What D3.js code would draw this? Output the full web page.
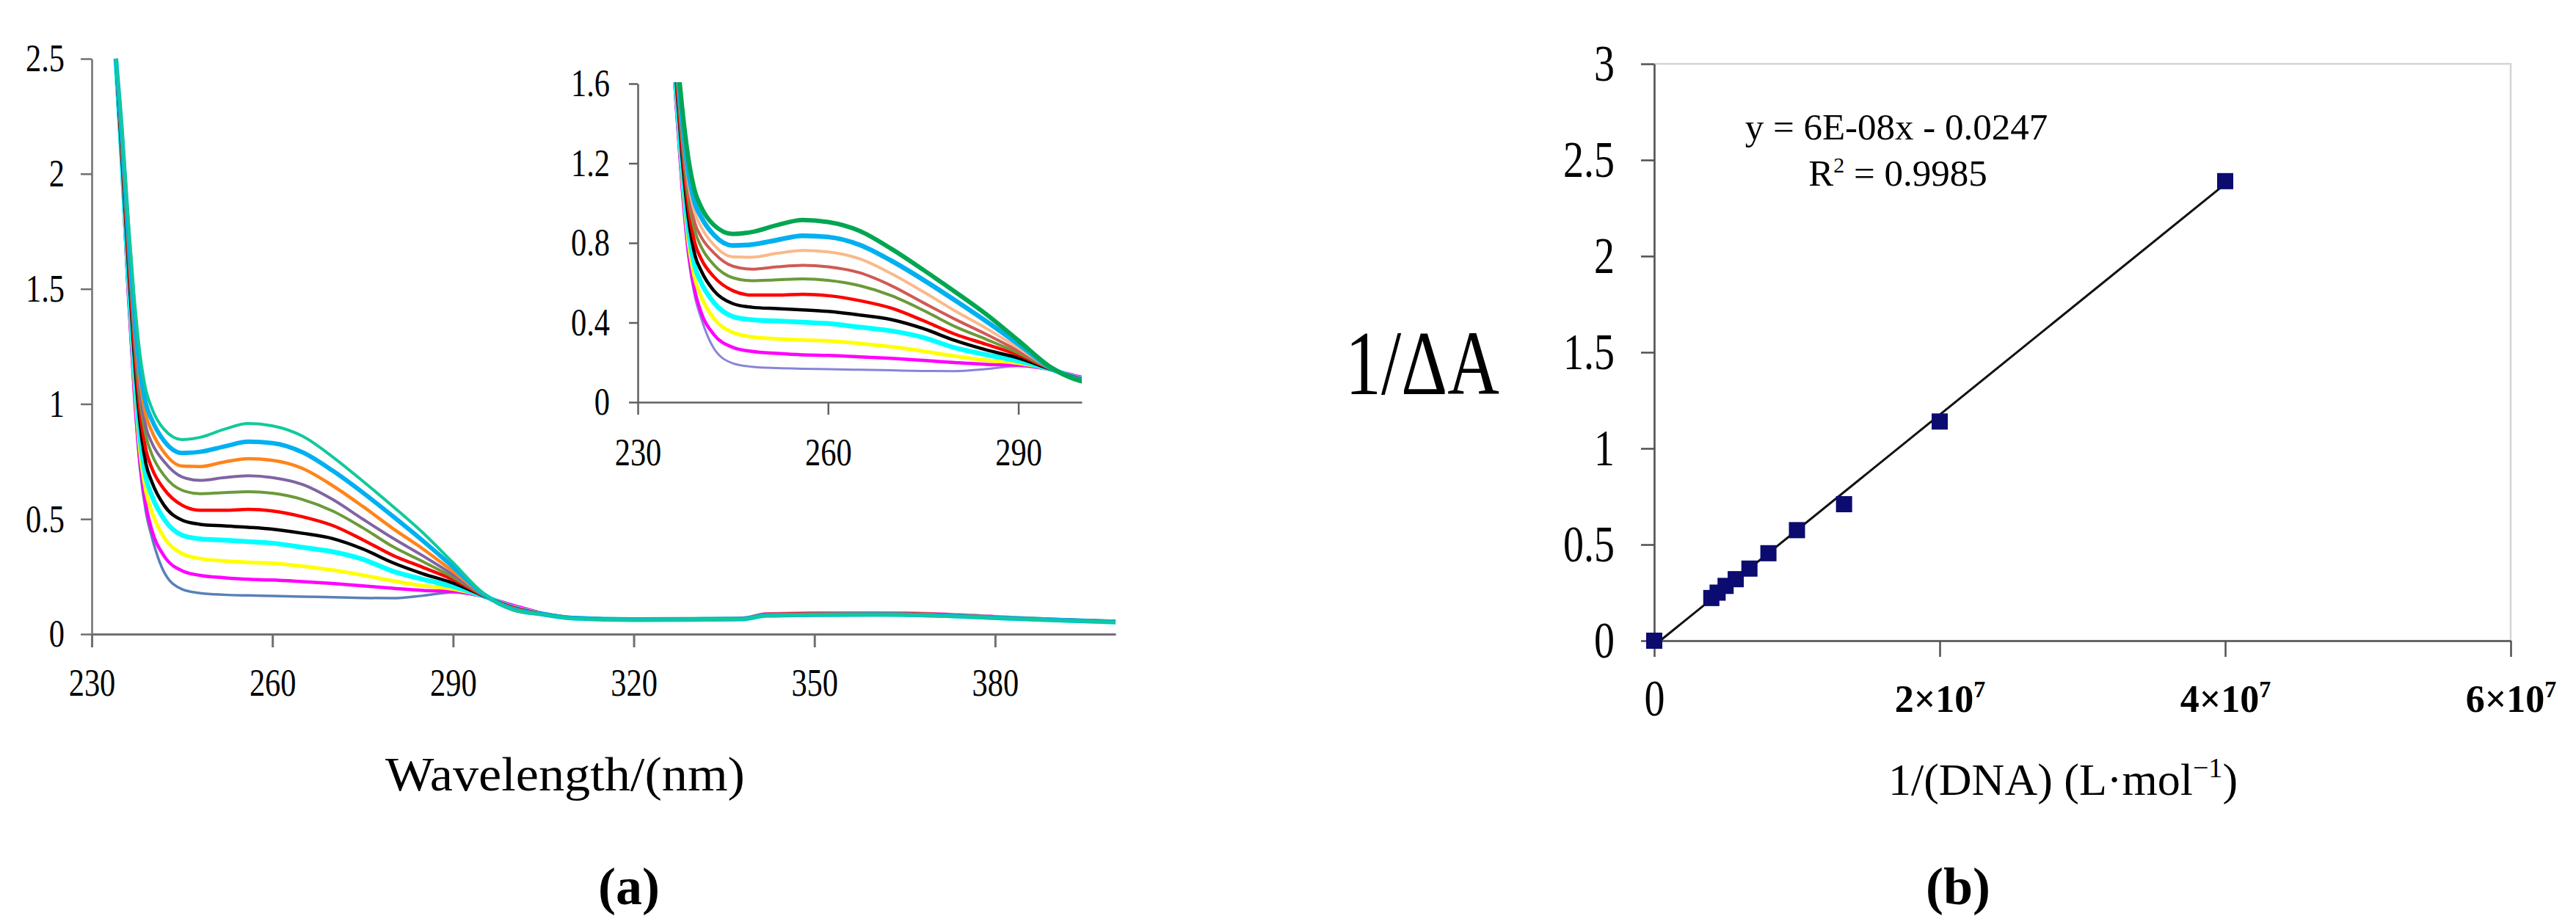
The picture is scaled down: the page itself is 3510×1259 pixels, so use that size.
<!DOCTYPE html>
<html lang='en'>
<head>
  <meta charset='UTF-8'>
  <title>DNA binding spectra</title>
  <script src='https://d3js.org/d3.v7.min.js'></script>
  <style>
    body { margin: 0; background: #fff; }
    svg { display: block; background: #fff; }
  </style>
</head>
<body>
  <svg width='3510' height='1259'></svg>

  <script>
    // ---- data ----
    var wavelengths = [234, 235, 236, 237, 238, 239, 240, 242, 245, 248, 252, 256, 260, 265, 270, 275, 280, 285, 290, 295, 300, 305, 310, 320, 330, 338, 342, 350, 360, 370, 380, 390, 400];

    var spec1  = [2.5, 2.2, 1.82, 1.48, 1.22, 1.06, 0.98, 0.89, 0.845, 0.855, 0.89, 0.915, 0.905, 0.86, 0.77, 0.665, 0.555, 0.44, 0.31, 0.178, 0.105, 0.085, 0.068, 0.062, 0.063, 0.065, 0.08, 0.083, 0.084, 0.08, 0.07, 0.06, 0.052];
    var spec2  = [2.5, 2.18, 1.78, 1.42, 1.15, 1.0, 0.93, 0.84, 0.787, 0.792, 0.815, 0.836, 0.83, 0.79, 0.71, 0.615, 0.512, 0.405, 0.292, 0.175, 0.107, 0.086, 0.069, 0.063, 0.064, 0.066, 0.081, 0.084, 0.085, 0.081, 0.071, 0.061, 0.053];
    var spec3  = [2.5, 2.15, 1.75, 1.38, 1.1, 0.95, 0.88, 0.79, 0.73, 0.728, 0.748, 0.762, 0.755, 0.72, 0.645, 0.555, 0.459, 0.37, 0.272, 0.172, 0.11, 0.087, 0.07, 0.064, 0.065, 0.067, 0.084, 0.087, 0.088, 0.084, 0.073, 0.062, 0.054];
    var spec4  = [2.5, 2.13, 1.72, 1.34, 1.06, 0.9, 0.83, 0.75, 0.683, 0.668, 0.68, 0.688, 0.68, 0.65, 0.585, 0.5, 0.417, 0.34, 0.258, 0.17, 0.112, 0.087, 0.07, 0.064, 0.065, 0.067, 0.083, 0.086, 0.087, 0.083, 0.072, 0.062, 0.054];
    var spec5  = [2.5, 2.12, 1.7, 1.31, 1.02, 0.86, 0.78, 0.69, 0.625, 0.61, 0.615, 0.619, 0.612, 0.585, 0.535, 0.462, 0.38, 0.315, 0.247, 0.169, 0.113, 0.086, 0.069, 0.063, 0.064, 0.066, 0.082, 0.085, 0.086, 0.082, 0.071, 0.061, 0.053];
    var spec6  = [2.5, 2.1, 1.67, 1.27, 0.97, 0.8, 0.72, 0.63, 0.56, 0.538, 0.538, 0.542, 0.535, 0.51, 0.472, 0.41, 0.342, 0.29, 0.237, 0.168, 0.115, 0.088, 0.071, 0.065, 0.066, 0.068, 0.086, 0.089, 0.09, 0.086, 0.074, 0.063, 0.055];
    var spec7  = [2.5, 2.08, 1.64, 1.23, 0.92, 0.74, 0.66, 0.56, 0.495, 0.477, 0.47, 0.464, 0.456, 0.438, 0.415, 0.37, 0.31, 0.262, 0.222, 0.167, 0.115, 0.087, 0.07, 0.064, 0.065, 0.067, 0.083, 0.086, 0.087, 0.083, 0.072, 0.062, 0.054];
    var spec8  = [2.5, 2.06, 1.6, 1.18, 0.86, 0.68, 0.6, 0.5, 0.43, 0.414, 0.408, 0.402, 0.395, 0.377, 0.358, 0.325, 0.273, 0.238, 0.207, 0.166, 0.116, 0.086, 0.069, 0.063, 0.064, 0.066, 0.082, 0.085, 0.086, 0.082, 0.071, 0.061, 0.053];
    var spec9  = [2.5, 2.04, 1.56, 1.13, 0.8, 0.62, 0.53, 0.42, 0.35, 0.328, 0.318, 0.312, 0.308, 0.295, 0.278, 0.256, 0.231, 0.21, 0.196, 0.165, 0.118, 0.088, 0.071, 0.065, 0.066, 0.068, 0.085, 0.088, 0.089, 0.085, 0.074, 0.063, 0.055];
    var spec10 = [2.5, 2.02, 1.52, 1.08, 0.75, 0.56, 0.45, 0.34, 0.275, 0.255, 0.245, 0.238, 0.235, 0.228, 0.22, 0.21, 0.199, 0.19, 0.186, 0.164, 0.125, 0.09, 0.072, 0.066, 0.067, 0.069, 0.088, 0.091, 0.092, 0.088, 0.076, 0.064, 0.056];
    var spec11 = [2.5, 2.0, 1.48, 1.05, 0.72, 0.53, 0.42, 0.27, 0.195, 0.178, 0.171, 0.168, 0.166, 0.163, 0.16, 0.157, 0.156, 0.167, 0.182, 0.162, 0.12, 0.088, 0.07, 0.064, 0.065, 0.067, 0.084, 0.087, 0.088, 0.084, 0.073, 0.062, 0.054];
    var spectra = [spec1, spec2, spec3, spec4, spec5, spec6, spec7, spec8, spec9, spec10, spec11];

    var mainColors  = ['#12c99b', '#00b0f0', '#ff8419', '#8064a2', '#6b9a3a', '#ff0000', '#000000', '#00ffff', '#ffff00', '#ff00ff', '#5a80b8'];
    var mainWidths  = [4, 6, 4.5, 4, 4, 4.5, 4.5, 6.5, 5, 4.5, 3.5];
    var insetColors = ['#00a651', '#00b0f0', '#fab98a', '#d05a55', '#6b9a3a', '#ff0000', '#000000', '#00ffff', '#ffff00', '#ff00ff', '#8884d8'];
    var insetWidths = [6, 6.5, 4, 4, 4, 4.5, 4.5, 6.5, 5, 4.5, 3];

    var mainXTicks  = [230, 260, 290, 320, 350, 380];
    var mainYTicks  = [0, 0.5, 1, 1.5, 2, 2.5];
    var insetXTicks = [230, 260, 290];
    var insetYTicks = [0, 0.4, 0.8, 1.2, 1.6];

    // double reciprocal plot
    var invDNA = [0, 4.0e6, 4.44e6, 5.0e6, 5.71e6, 6.67e6, 8.0e6, 1.0e7, 1.33e7, 2.0e7, 4.0e7];
    var invDA  = [0, 0.222, 0.25, 0.285, 0.32, 0.375, 0.455, 0.575, 0.71, 1.14, 2.39];
    var fitSlope = 6e-8, fitIntercept = -0.0247;
    var rightXTicks  = [0, 2e7, 4e7, 6e7];
    var rightXLabels = ['0', '2×10', '4×10', '6×10'];
    var rightYTicks  = [0, 0.5, 1, 1.5, 2, 2.5, 3];

    var svg = d3.select('svg');
    var serif = 'Liberation Serif, Times New Roman, serif';
    var squeeze = 0.8;

    function styleAxis(g, color, width, size, side, offset) {
      g.select('.domain').attr('stroke', color).attr('stroke-width', width);
      g.selectAll('.tick line').attr('stroke', color).attr('stroke-width', width);
      var t = g.selectAll('.tick text')
        .attr('font-family', serif)
        .attr('font-size', size)
        .attr('fill', '#000')
        .attr('transform', 'scale(' + squeeze + ',1)');
      if (side === 'left') t.attr('x', -offset / squeeze);
    }

    // ---------- (a) main spectra ----------
    var m = {left: 125, right: 1520, top: 80, bottom: 864};
    var x = d3.scaleLinear().domain([230, 400]).range([m.left, m.right]);
    var y = d3.scaleLinear().domain([0, 2.5]).range([m.bottom, m.top]);

    var line = d3.line()
      .x(function(d, i) { return x(wavelengths[i]); })
      .y(function(d) { return y(d); })
      .curve(d3.curveMonotoneX);

    var gMain = svg.append('g');
    for (var k = spectra.length - 1; k >= 0; k--) {
      gMain.append('path')
        .datum(spectra[k])
        .attr('fill', 'none')
        .attr('stroke', mainColors[k])
        .attr('stroke-width', mainWidths[k])
        .attr('stroke-linejoin', 'round')
        .attr('d', line);
    }

    var gx = svg.append('g')
      .attr('transform', 'translate(0,' + m.bottom + ')')
      .call(d3.axisBottom(x).tickValues(mainXTicks).tickFormat(String).tickSize(18).tickSizeOuter(0).tickPadding(28));
    styleAxis(gx, '#707070', 3, 53, 'bottom');
    var gy = svg.append('g')
      .attr('transform', 'translate(' + m.left + ',0)')
      .call(d3.axisLeft(y).tickValues(mainYTicks).tickFormat(String).tickSize(15).tickSizeOuter(0).tickPadding(22));
    styleAxis(gy, '#707070', 2.5, 53, 'left', 37);

    svg.append('text')
      .attr('x', 770).attr('y', 1077)
      .attr('text-anchor', 'middle')
      .attr('font-family', serif).attr('font-size', 66)
      .attr('textLength', 490).attr('lengthAdjust', 'spacingAndGlyphs')
      .text('Wavelength/(nm)');
    svg.append('text')
      .attr('x', 857).attr('y', 1232)
      .attr('text-anchor', 'middle')
      .attr('font-family', serif).attr('font-size', 72).attr('font-weight', 'bold')
      .text('(a)');

    // ---------- inset (same spectra, 230-300 nm) ----------
    var n = {left: 869, right: 1474, top: 114, bottom: 548};
    var xi = d3.scaleLinear().domain([230, 300]).range([n.left, n.right]);
    var yi = d3.scaleLinear().domain([0, 1.6]).range([n.bottom, n.top]);

    svg.append('clipPath').attr('id', 'insetClip')
      .append('rect')
      .attr('x', n.left).attr('y', n.top - 2)
      .attr('width', n.right - n.left).attr('height', n.bottom - n.top + 2);

    var lineInset = d3.line()
      .x(function(d, i) { return xi(wavelengths[i]); })
      .y(function(d) { return yi(d); })
      .curve(d3.curveMonotoneX);

    var gInset = svg.append('g').attr('clip-path', 'url(#insetClip)');
    for (var j = spectra.length - 1; j >= 0; j--) {
      gInset.append('path')
        .datum(spectra[j])
        .attr('fill', 'none')
        .attr('stroke', insetColors[j])
        .attr('stroke-width', insetWidths[j])
        .attr('stroke-linejoin', 'round')
        .attr('d', lineInset);
    }

    var gxi = svg.append('g')
      .attr('transform', 'translate(0,' + n.bottom + ')')
      .call(d3.axisBottom(xi).tickValues(insetXTicks).tickFormat(String).tickSize(17).tickSizeOuter(0).tickPadding(31));
    styleAxis(gxi, '#606060', 2.5, 53, 'bottom');
    var gyi = svg.append('g')
      .attr('transform', 'translate(' + n.left + ',0)')
      .call(d3.axisLeft(yi).tickValues(insetYTicks).tickFormat(String).tickSize(12).tickSizeOuter(0).tickPadding(26));
    styleAxis(gyi, '#606060', 2.5, 53, 'left', 38);

    // ---------- (b) double reciprocal plot ----------
    var r = {left: 2254, right: 3421, top: 87, bottom: 873};
    var xr = d3.scaleLinear().domain([0, 6e7]).range([r.left, r.right]);
    var yr = d3.scaleLinear().domain([0, 3]).range([r.bottom, r.top]);

    svg.append('rect')
      .attr('x', r.left).attr('y', r.top)
      .attr('width', r.right - r.left).attr('height', r.bottom - r.top)
      .attr('fill', 'none').attr('stroke', '#d4d4d4').attr('stroke-width', 2.5);

    var gxr = svg.append('g')
      .attr('transform', 'translate(0,' + r.bottom + ')')
      .call(d3.axisBottom(xr).tickValues(rightXTicks).tickFormat('').tickSize(22).tickSizeOuter(0));
    styleAxis(gxr, '#505050', 2.5, 52, 'bottom');
    gxr.selectAll('.tick').each(function(d, i) {
      var t = d3.select(this).append('text')
        .attr('text-anchor', 'middle')
        .attr('font-family', serif)
        .attr('fill', '#000');
      if (i === 0) {
        t.attr('y', 102).attr('font-size', 70)
          .attr('transform', 'scale(' + squeeze + ',1)')
          .text(rightXLabels[i]);
      } else {
        t.attr('y', 97).attr('font-size', 52).attr('font-weight', 'bold');
        t.append('tspan').text(rightXLabels[i]);
        t.append('tspan').attr('dy', -20).attr('font-size', 32).text('7');
      }
    });

    var gyr = svg.append('g')
      .attr('transform', 'translate(' + r.left + ',0)')
      .call(d3.axisLeft(yr).tickValues(rightYTicks).tickFormat(String).tickSize(18).tickSizeOuter(0).tickPadding(38));
    styleAxis(gyr, '#505050', 2.5, 70, 'left', 54);

    var fitX0 = -fitIntercept / fitSlope, fitX1 = invDNA[invDNA.length - 1];
    svg.append('path')
      .datum([fitX0, fitX1])
      .attr('fill', 'none')
      .attr('stroke', '#111')
      .attr('stroke-width', 3)
      .attr('d', d3.line()
        .x(function(d) { return xr(d); })
        .y(function(d) { return yr(fitSlope * d + fitIntercept); }));

    svg.append('g').selectAll('rect')
      .data(invDNA)
      .enter().append('rect')
      .attr('x', function(d) { return xr(d) - 11; })
      .attr('y', function(d, i) { return yr(invDA[i]) - 11; })
      .attr('width', 22).attr('height', 22)
      .attr('fill', '#0b0b70');

    svg.append('text')
      .attr('x', 2584).attr('y', 190)
      .attr('text-anchor', 'middle')
      .attr('font-family', serif).attr('font-size', 51)
      .text('y = 6E-08x - 0.0247');
    var r2 = svg.append('text')
      .attr('x', 2586).attr('y', 253)
      .attr('text-anchor', 'middle')
      .attr('font-family', serif).attr('font-size', 51);
    r2.append('tspan').text('R');
    r2.append('tspan').attr('dy', -18).attr('font-size', 30).text('2');
    r2.append('tspan').attr('dy', 18).text(' = 0.9985');

    svg.append('text')
      .attr('x', 2043).attr('y', 537)
      .attr('text-anchor', 'end')
      .attr('font-family', serif).attr('font-size', 124)
      .attr('textLength', 210).attr('lengthAdjust', 'spacingAndGlyphs')
      .text('1/ΔA');

    var xt = svg.append('text')
      .attr('x', 2811).attr('y', 1083)
      .attr('text-anchor', 'middle')
      .attr('font-family', serif).attr('font-size', 62);
    xt.append('tspan').text('1/(DNA) (L·mol');
    xt.append('tspan').attr('dy', -24).attr('font-size', 38).text('−1');
    xt.append('tspan').attr('dy', 24).text(')');

    svg.append('text')
      .attr('x', 2668).attr('y', 1232)
      .attr('text-anchor', 'middle')
      .attr('font-family', serif).attr('font-size', 72).attr('font-weight', 'bold')
      .text('(b)');
  </script>
</body>
</html>
